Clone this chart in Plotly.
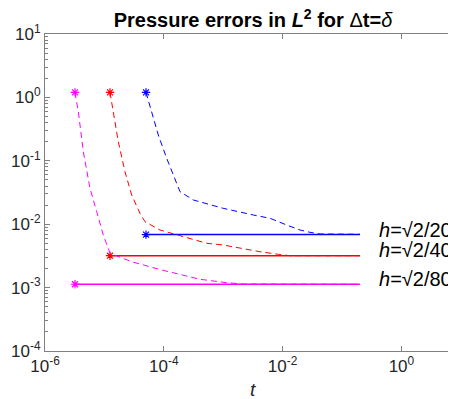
import numpy as np
import plotly.graph_objects as go

# ---- data ----
t_end = 0.2

t_h20 = [5.02e-5, 6.25e-5, 8.08e-5, 1.119e-4, 1.445e-4, 1.874e-4, 3.14e-4, 1.0e-3,
         3.21e-3, 6.14e-3, 1.172e-2, 1.963e-2, 2.89e-2, 4.26e-2, 0.2]
e_h20 = [1.2, 0.595, 0.255, 0.1095, 0.0597, 0.0326, 0.0241, 0.0178,
         0.01397, 0.01239, 9.71e-3, 8.1e-3, 7.45e-3, 7.0e-3, 6.93e-3]

t_h40 = [1.243e-5, 1.413e-5, 1.714e-5, 2.22e-5, 2.88e-5, 3.97e-5, 4.83e-5, 8.63e-5,
         2.76e-4, 5.28e-4, 1.0e-3, 2.82e-3, 4.16e-3, 8.47e-3, 1.33e-2, 0.2]
e_h40 = [1.2, 0.595, 0.2, 0.0673, 0.0289, 0.01486, 0.01095, 8.1e-3,
         5.99e-3, 5.0e-3, 4.7e-3, 3.92e-3, 3.68e-3, 3.35e-3, 3.185e-3, 3.185e-3]

t_h80 = [3.2e-6, 3.64e-6, 4.42e-6, 5.72e-6, 7.42e-6, 9.58e-6, 1.243e-5, 2.88e-5,
         9.22e-5, 1.445e-4, 4.07e-4, 1.146e-3, 2.18e-3, 0.2]
e_h80 = [1.2, 0.595, 0.139, 0.0368, 0.01575, 6.76e-3, 3.475e-3, 2.56e-3,
         1.895e-3, 1.718e-3, 1.352e-3, 1.195e-3, 1.14e-3, 1.13e-3]

# horizontal reference levels (start time, level)
ref_t0 = [5.02e-5, 1.243e-5, 3.2e-6]
ref_level = [6.85e-3, 3.185e-3, 1.13e-3]

labels = ["<i>h</i>=√2/20", "<i>h</i>=√2/40", "<i>h</i>=√2/80"]
label_y = [8.1e-3, 3.92e-3, 1.37e-3]
label_x = 0.403
colors = ["#0000ff", "#ff0000", "#ff00ff"]

x_tickvals = [1e-6, 1e-4, 1e-2, 1e0]
x_ticktext = ["10<sup>-6</sup>", "10<sup>-4</sup>", "10<sup>-2</sup>", "10<sup>0</sup>"]
y_tickvals = [1e-4, 1e-3, 1e-2, 1e-1, 1e0, 1e1]
y_ticktext = ["10<sup>-4</sup>", "10<sup>-3</sup>", "10<sup>-2</sup>", "10<sup>-1</sup>",
              "10<sup>0</sup>", "10<sup>1</sup>"]

fig = go.Figure()
curves = [(t_h20, e_h20), (t_h40, e_h40), (t_h80, e_h80)]
for i, (tt, ee) in enumerate(curves):
    c = colors[i]
    star = dict(symbol="asterisk-open", size=7, color=c, line=dict(color=c, width=1.2))
    fig.add_trace(go.Scatter(x=tt, y=ee, mode="lines",
                             line=dict(color=c, width=1, dash="6px,4px"),
                             showlegend=False, hoverinfo="skip"))
    fig.add_trace(go.Scatter(x=[tt[0]], y=[ee[0]], mode="markers", marker=star,
                             showlegend=False, hoverinfo="skip"))
    fig.add_trace(go.Scatter(x=[ref_t0[i], t_end], y=[ref_level[i], ref_level[i]],
                             mode="lines", line=dict(color=c, width=1.5),
                             showlegend=False, hoverinfo="skip"))
    fig.add_trace(go.Scatter(x=[ref_t0[i]], y=[ref_level[i]], mode="markers", marker=star,
                             showlegend=False, hoverinfo="skip"))
    fig.add_annotation(x=np.log10(label_x), y=np.log10(label_y[i]), xref="x", yref="y",
                       text=labels[i], showarrow=False, xanchor="left", yanchor="middle",
                       borderpad=0, font=dict(family="Arial, Liberation Sans", size=20,
                                              color="#000000"))

# x-axis title as an annotation for precise placement
fig.add_annotation(x=208 / 411, y=-(389 - 351) / 317, xref="paper", yref="paper",
                   text="<i>t</i>", showarrow=False, xanchor="center", yanchor="middle",
                   borderpad=0, font=dict(family="Arial, Liberation Sans", size=19,
                                          color="#262626"))

y_minor = [m * 10.0 ** k for k in range(-4, 1) for m in range(2, 10)]

# page body has an 8px default margin: the figure is sized/offset to compensate
fig.update_layout(
    width=448, height=391,
    margin=dict(l=37, r=0, t=26, b=48, autoexpand=False),
    paper_bgcolor="white", plot_bgcolor="white",
    font=dict(family="Arial, Liberation Sans", color="#262626"),
    title=dict(text="<b>Pressure errors in <i>L</i><sup>2</sup> for </b>Δ<b>t=</b><i>δ</i>",
               x=245 / 448, xref="container", xanchor="center",
               y=1 - 12 / 391, yref="container", yanchor="middle",
               font=dict(size=20, color="#000000")),
    xaxis=dict(type="log", range=[-6, -6 + 411 / 59.4], showline=True, linecolor="#808080",
               linewidth=1, mirror="ticks", ticks="inside", ticklen=5, tickcolor="#808080",
               tickvals=x_tickvals, ticktext=x_ticktext, showgrid=False, zeroline=False,
               automargin=False, tickfont=dict(size=17, color="#262626")),
    yaxis=dict(type="log", range=[-4, 1], showline=True, linecolor="#808080",
               linewidth=1, mirror=False, ticks="inside", ticklen=5, tickcolor="#808080",
               tickvals=y_tickvals, ticktext=y_ticktext, showgrid=False, zeroline=False,
               automargin=False, tickfont=dict(size=17, color="#262626"),
               minor=dict(ticks="inside", ticklen=3, tickcolor="#808080",
                          tickvals=y_minor, showgrid=False)),
)

fig.write_html("out.html")
